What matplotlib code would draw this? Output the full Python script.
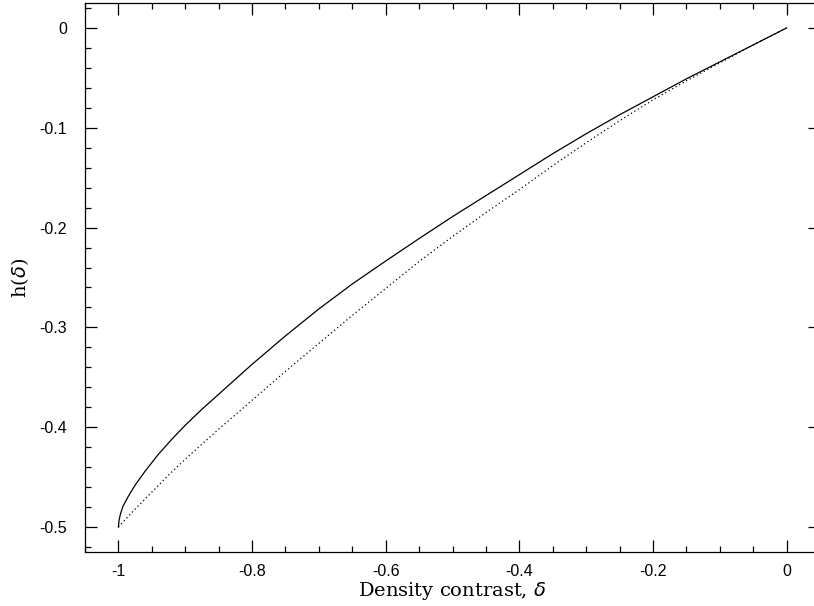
import matplotlib
matplotlib.use('Agg')
import matplotlib.pyplot as plt
from matplotlib.ticker import MultipleLocator, FuncFormatter

# values
delta_exact = [-1.0, -0.999, -0.997, -0.993, -0.985, -0.975, -0.96, -0.94, -0.92, -0.9,
               -0.875, -0.85, -0.8, -0.75, -0.7, -0.65, -0.6, -0.55,
               -0.5, -0.45, -0.4, -0.35, -0.3, -0.25, -0.2, -0.15, -0.1, -0.05, 0.0]
h_exact = [-0.5, -0.493, -0.487, -0.479, -0.469, -0.458, -0.444, -0.427, -0.412, -0.398,
           -0.382, -0.367, -0.337, -0.3085, -0.2815, -0.2565, -0.2335, -0.211,
           -0.189, -0.168, -0.147, -0.126, -0.106, -0.087, -0.069, -0.051, -0.034, -0.017, 0.0]

delta_approx = [-1.0, -0.975, -0.95, -0.925, -0.9, -0.85, -0.8, -0.75, -0.7, -0.65,
                -0.6, -0.55, -0.5, -0.45, -0.4, -0.35, -0.3, -0.25, -0.2, -0.15,
                -0.1, -0.05, 0.0]
h_approx = [-0.5, -0.482, -0.465, -0.448, -0.432, -0.402, -0.373, -0.344, -0.316, -0.288,
            -0.261, -0.234, -0.209, -0.185, -0.162, -0.138, -0.115, -0.093, -0.072, -0.053,
            -0.035, -0.017, 0.0]

xlabel = r'Density contrast, $\delta$'
ylabel = r'h($\delta$)'

fig = plt.figure(figsize=(8.14, 6.06), dpi=100)
# right edge of the frame falls just outside the picture, as in the reference
ax = fig.add_axes([85/814, 54/606, 735/814, 549/606])

ax.plot(delta_exact, h_exact, 'k-', lw=0.9)
ax.plot(delta_approx, h_approx, color='k', lw=0.9, linestyle=(0, (1, 2.2)))

ax.set_xlim(-1.05, 0.05)
ax.set_ylim(-0.525, 0.025)

ax.xaxis.set_major_locator(MultipleLocator(0.2))
ax.xaxis.set_minor_locator(MultipleLocator(0.05))
ax.yaxis.set_major_locator(MultipleLocator(0.1))
ax.yaxis.set_minor_locator(MultipleLocator(0.02))

fmt = FuncFormatter(lambda v, p: '0' if abs(v) < 1e-9 else ('%g' % round(v, 3)))
ax.xaxis.set_major_formatter(fmt)
ax.yaxis.set_major_formatter(fmt)

ax.tick_params(which='both', direction='in', top=True, right=True, width=0.9,
               labelfontfamily='Liberation Sans', labelsize=11.5)
ax.tick_params(which='major', length=8.6)
ax.tick_params(which='minor', length=4.3)
ax.tick_params(axis='x', which='major', pad=9)
ax.tick_params(axis='y', which='major', pad=13)

for s in ax.spines.values():
    s.set_linewidth(0.9)
ax.spines['right'].set_visible(False)

ax.set_xlabel(xlabel, family='DejaVu Serif', fontsize=14, labelpad=0)
ax.set_ylabel(ylabel, family='DejaVu Serif', fontsize=14, labelpad=6)

fig.savefig('out.png', dpi=100)
